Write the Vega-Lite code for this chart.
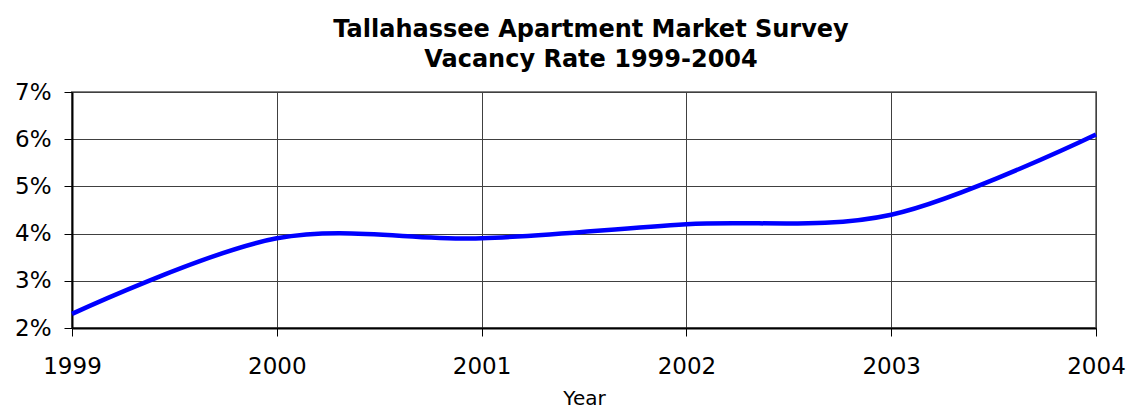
{
  "$schema": "https://vega.github.io/schema/vega-lite/v6.json",
  "width": 1024,
  "height": 236,
  "autosize": {"type": "none"},
  "padding": {"left": 72, "top": 92, "right": 31, "bottom": 83},
  "background": "white",
  "config": {
    "font": "DejaVu Sans",
    "view": {"stroke": "#808080", "strokeWidth": 2}
  },
  "title": {
    "text": ["Tallahassee Apartment Market Survey", "Vacancy Rate 1999-2004"],
    "font": "DejaVu Sans",
    "fontSize": 24,
    "fontWeight": "bold",
    "color": "black",
    "anchor": "middle",
    "frame": "group",
    "lineHeight": 30,
    "offset": 9,
    "dx": 7
  },
  "data": {
    "values": [
      {"Year": 1999, "Rate": 0.023},
      {"Year": 2000, "Rate": 0.039},
      {"Year": 2001, "Rate": 0.039},
      {"Year": 2002, "Rate": 0.042},
      {"Year": 2003, "Rate": 0.044},
      {"Year": 2004, "Rate": 0.061}
    ]
  },
  "mark": {"type": "line", "interpolate": "cardinal", "color": "#0000FF", "strokeWidth": 4.5},
  "encoding": {
    "x": {
      "field": "Year",
      "type": "quantitative",
      "scale": {"domain": [1999, 2004], "nice": false, "zero": false},
      "axis": {
        "values": [1999, 2000, 2001, 2002, 2003, 2004],
        "format": "d",
        "title": "Year",
        "titleFontSize": 20,
        "titleFontWeight": "normal",
        "titleColor": "black",
        "titlePadding": 10,
        "labelFontSize": 23,
        "labelColor": "black",
        "labelPadding": 19,
        "labelFlush": false,
        "tickSize": 8,
        "tickColor": "black",
        "domainColor": "black",
        "domainWidth": 2,
        "grid": true,
        "gridColor": "#404040",
        "gridWidth": 1
      }
    },
    "y": {
      "field": "Rate",
      "type": "quantitative",
      "scale": {"domain": [0.02, 0.07], "nice": false, "zero": false},
      "axis": {
        "values": [0.02, 0.03, 0.04, 0.05, 0.06, 0.07],
        "format": ".0%",
        "title": null,
        "labelFontSize": 23,
        "labelColor": "black",
        "labelPadding": 13,
        "tickSize": 8,
        "tickColor": "black",
        "domainColor": "black",
        "domainWidth": 2,
        "grid": true,
        "gridColor": "#404040",
        "gridWidth": 1
      }
    }
  }
}
